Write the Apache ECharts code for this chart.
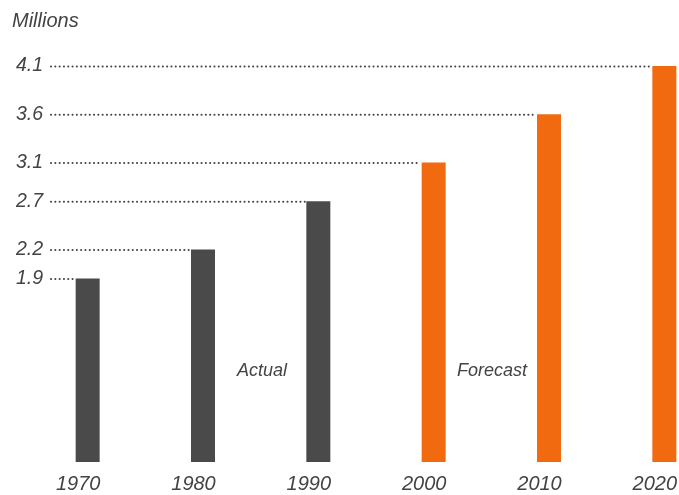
<!DOCTYPE html>
<html>
<head>
<meta charset="utf-8">
<script src="https://cdn.jsdelivr.net/npm/echarts@6/dist/echarts.min.js"></script>
<style>html,body{margin:0;padding:0;background:#fff;}#c{width:679px;height:495px;}</style>
</head>
<body>
<div id="c"></div>
<script>
const years = ['1970', '1980', '1990', '2000', '2010', '2020'];
const actualValues = [1.9, 2.2, 2.7, null, null, null];
const forecastValues = [null, null, null, 3.1, 3.6, 4.1];
const tickValues = [1.9, 2.2, 2.7, 3.1, 3.6, 4.1];
const unitLabel = 'Millions';
const phaseLabels = ['Actual', 'Forecast'];

const FONT = '"Liberation Sans", Arial, Helvetica, sans-serif';
const TXT = '#434343';
const BAR_W = 24;

const chart = echarts.init(document.getElementById('c'), null, {renderer: 'canvas'});
const lineData = years.map((y, i) => [i, actualValues[i] != null ? actualValues[i] : forecastValues[i]]);

chart.setOption({
  animation: false,
  backgroundColor: '#fff',
  title: {
    text: unitLabel, left: 7, top: 6,
    textStyle: {fontFamily: FONT, fontStyle: 'italic', fontWeight: 'normal', fontSize: 20, color: TXT}
  },
  grid: {left: 30, width: 692, top: 27.4, bottom: 33, containLabel: false, outerBoundsMode: 'none'},
  xAxis: {
    type: 'category', data: years,
    axisLine: {show: false}, axisTick: {show: false}, splitLine: {show: false},
    axisLabel: {
      fontFamily: FONT, fontStyle: 'italic', fontSize: 20, color: TXT,
      margin: 12, padding: [0, 19, 0, 0], interval: 0
    }
  },
  yAxis: {
    type: 'value', min: 0, max: 4.5, offset: -21,
    axisLine: {show: false}, axisTick: {show: false}, splitLine: {show: false},
    axisLabel: {
      customValues: tickValues, margin: 8,
      formatter: v => v.toFixed(1),
      fontFamily: FONT, fontStyle: 'italic', fontSize: 19.5, color: TXT
    }
  },
  graphic: [
    {type: 'text', z: 10, left: 237, top: 362, style: {text: phaseLabels[0], font: 'italic 18px ' + FONT, fill: TXT}},
    {type: 'text', z: 10, left: 457, top: 362, style: {text: phaseLabels[1], font: 'italic 18px ' + FONT, fill: TXT}}
  ],
  series: [
    {
      type: 'custom', z: 1, silent: true, data: lineData,
      renderItem: (params, api) => {
        const p = api.coord([api.value(0), api.value(1)]);
        return {
          type: 'line',
          shape: {x1: 51, y1: p[1] + 0.5, x2: p[0] - BAR_W / 2 - 1, y2: p[1] + 0.5},
          style: {stroke: '#444', lineWidth: 2, lineDash: [0.1, 4.2], lineCap: 'round'}
        };
      }
    },
    {type: 'bar', name: 'Actual', data: actualValues, barWidth: BAR_W, barGap: '-100%', z: 3,
     itemStyle: {color: '#4a4a4a'}},
    {type: 'bar', name: 'Forecast', data: forecastValues, barWidth: BAR_W, barGap: '-100%', z: 3,
     itemStyle: {color: '#f26a10'}}
  ]
});
</script>
</body>
</html>
